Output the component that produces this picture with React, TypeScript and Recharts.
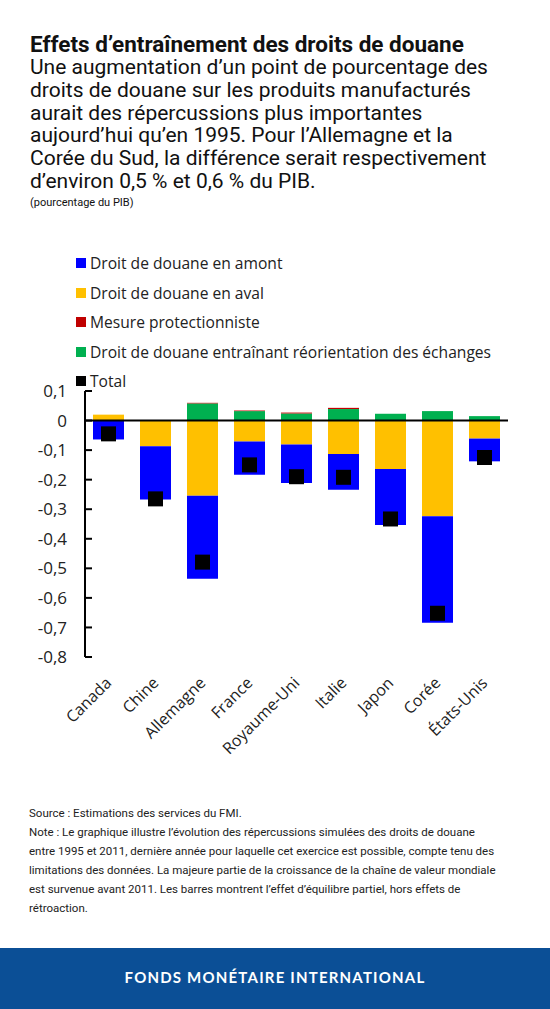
import React from "react";
import {
  ComposedChart,
  Bar,
  Scatter,
  XAxis,
  YAxis,
  ReferenceLine,
} from "recharts";

const countries = ["Canada", "Chine", "Allemagne", "France", "Royaume-Uni", "Italie", "Japon", "Corée", "États-Unis"];
const amont = [-0.064, -0.18, -0.281, -0.112, -0.13, -0.121, -0.189, -0.36, -0.077];
const aval = [0.02, -0.087, -0.254, -0.071, -0.081, -0.113, -0.164, -0.324, -0.061];
const protection = [0, 0, 0.002, 0.002, 0.003, 0.004, 0, 0, 0];
const reorientation = [0, 0, 0.058, 0.032, 0.024, 0.039, 0.023, 0.032, 0.015];
const total = [-0.045, -0.265, -0.479, -0.15, -0.19, -0.192, -0.333, -0.652, -0.125];
const yTicks = [0.1, 0, -0.1, -0.2, -0.3, -0.4, -0.5, -0.6, -0.7, -0.8];

const legendItems = [
  { label: "Droit de douane en amont", color: "#0000FF" },
  { label: "Droit de douane en aval", color: "#FFC000" },
  { label: "Mesure protectionniste", color: "#C00000" },
  { label: "Droit de douane entraînant réorientation des échanges", color: "#00B050" },
  { label: "Total", color: "#000000" },
];

const data = countries.map((c, i) => ({
  country: c,
  amont: amont[i],
  aval: aval[i],
  protection: protection[i],
  reorientation: reorientation[i],
  total: total[i],
}));

const fmt = (v: number) => (v === 0 ? "0" : v.toFixed(1).replace(".", ","));

const YTick = (props: any) => {
  const { x, y, payload } = props;
  return (
    <g>
      <line x1={x + 18} x2={x + 25} y1={y} y2={y} stroke="#000" strokeWidth={2} />
      <text x={x} y={y} dy="0.36em" textAnchor="end" fontSize={17} fill="#222" fontFamily="'Open Sans', sans-serif">
        {fmt(payload.value)}
      </text>
    </g>
  );
};

const XTick = (props: any) => {
  const { x, y, payload } = props;
  const tx = x + 4;
  const ty = y + 27;
  return (
    <text
      x={tx}
      y={ty}
      textAnchor="end"
      transform={`rotate(-45, ${tx}, ${ty})`}
      fontSize={16}
      fill="#222"
      fontFamily="'Open Sans', sans-serif"
    >
      {payload.value}
    </text>
  );
};

const Square = (props: any) => {
  const { cx, cy } = props;
  if (cx == null || cy == null) return null;
  return <rect x={cx - 7.5} y={cy - 7.5} width={15} height={15} fill="#000" />;
};

export default function App() {
  return (
    <div style={{ position: "absolute", left: 0, top: 0, width: 550, height: 1009, background: "#fff", overflow: "hidden" }}>
      <div style={{ position: "absolute", left: 30, top: 33, width: 470, fontFamily: "Roboto, sans-serif", color: "#111" }}>
        <div style={{ fontWeight: 700, fontSize: 22.5, lineHeight: "23px", whiteSpace: "nowrap" }}>Effets d’entraînement des droits de douane</div>
        <div style={{ fontSize: 21, lineHeight: "22.8px" }}>
          Une augmentation d’un point de pourcentage des droits de douane sur les produits manufacturés aurait des répercussions plus importantes aujourd’hui qu’en 1995. Pour l’Allemagne et la Corée du Sud, la différence serait respectivement d’environ 0,5 % et 0,6 % du PIB.
        </div>
        <div style={{ fontSize: 11, lineHeight: "16px", marginTop: 2 }}>(pourcentage du PIB)</div>
      </div>

      <div style={{ position: "absolute", left: 0, top: 360 }}>
        <ComposedChart
          width={550}
          height={420}
          data={data}
          stackOffset="sign"
          margin={{ top: 31, right: 42, bottom: 13, left: 0 }}
        >
          <XAxis
            dataKey="country"
            axisLine={false}
            tickLine={false}
            tickSize={0}
            tickMargin={0}
            interval={0}
            height={110}
            tick={<XTick />}
          />
          <YAxis
            type="number"
            domain={[-0.8, 0.1]}
            ticks={yTicks}
            interval={0}
            width={85}
            tickSize={0}
            tickMargin={18}
            tickLine={false}
            axisLine={{ stroke: "#000", strokeWidth: 2 }}
            tick={<YTick />}
            allowDataOverflow
          />
          <Bar dataKey="aval" stackId="s" fill="#FFC000" barSize={31} isAnimationActive={false} />
          <Bar dataKey="amont" stackId="s" fill="#0000FF" barSize={31} isAnimationActive={false} />
          <Bar dataKey="reorientation" stackId="s" fill="#00B050" barSize={31} isAnimationActive={false} />
          <Bar dataKey="protection" stackId="s" fill="#C00000" barSize={31} isAnimationActive={false} />
          <ReferenceLine y={0} stroke="#000" strokeWidth={2} />
          <Scatter dataKey="total" fill="#000" shape={<Square />} isAnimationActive={false} />
        </ComposedChart>
      </div>

      {legendItems.map((it, i) => (
        <div
          key={it.label}
          style={{
            position: "absolute",
            left: 76,
            top: 263 + i * 29.5 - 11,
            height: 22,
            display: "flex",
            alignItems: "center",
            fontFamily: "'Open Sans', sans-serif",
            fontSize: 15.6,
            color: "#222",
            whiteSpace: "nowrap",
          }}
        >
          <span style={{ display: "inline-block", width: 10, height: 10, background: it.color, marginRight: 4 }} />
          {it.label}
        </div>
      ))}

      <div
        style={{
          position: "absolute",
          left: 29,
          top: 804,
          width: 468,
          fontFamily: "Roboto, sans-serif",
          fontSize: 11.5,
          lineHeight: "18.9px",
          color: "#222",
        }}
      >
        <div>Source : Estimations des services du FMI.</div>
        <div>
          Note : Le graphique illustre l’évolution des répercussions simulées des droits de douane entre 1995 et 2011, dernière année pour laquelle cet exercice est possible, compte tenu des limitations des données. La majeure partie de la croissance de la chaîne de valeur mondiale est survenue avant 2011. Les barres montrent l’effet d’équilibre partiel, hors effets de rétroaction.
        </div>
      </div>

      <div
        style={{
          position: "absolute",
          left: 0,
          top: 948,
          width: 550,
          height: 61,
          background: "#0B4F96",
          color: "#fff",
          display: "flex",
          alignItems: "center",
          justifyContent: "center",
          fontFamily: "Lato, sans-serif",
          fontWeight: 700,
          fontSize: 15,
          letterSpacing: 1.2,
          paddingBottom: 4,
          boxSizing: "border-box",
        }}
      >
        FONDS MONÉTAIRE INTERNATIONAL
      </div>
    </div>
  );
}
